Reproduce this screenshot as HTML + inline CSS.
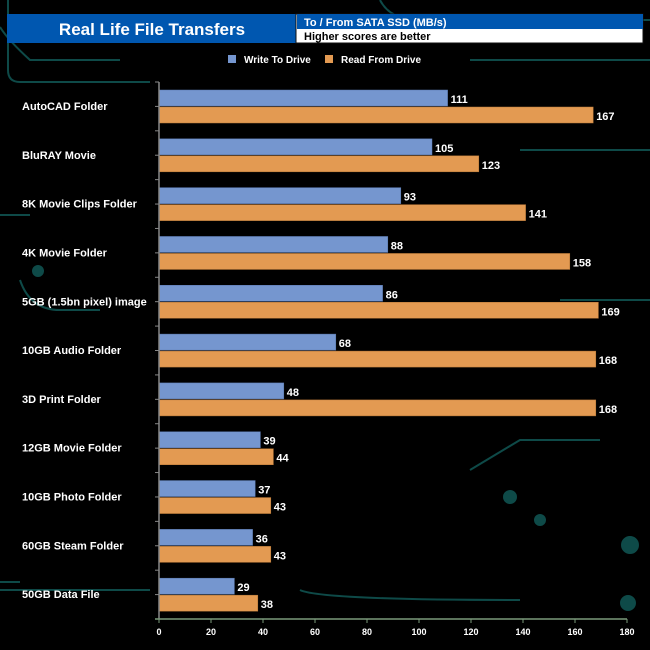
<!DOCTYPE html>
<html><head><meta charset="utf-8"><style>
body{margin:0;background:#000;}
svg{display:block;font-family:"Liberation Sans",Arial,sans-serif;font-weight:bold;}
</style></head><body>
<svg id="c" width="650" height="650" viewBox="0 0 650 650">
<g stroke="#0e4a48" stroke-width="2" fill="none">
<path d="M8 0 V70 Q8 82 20 82 H150"/>
<path d="M380 0 Q390 20 420 20 H650"/>
<path d="M470 60 H650"/>
<path d="M0 27 Q8 40 30 60 H120"/>
<path d="M0 215 H30"/><path d="M0 590 H150"/><path d="M0 582 H20"/>
<path d="M20 280 Q30 310 60 310 H100"/>
<path d="M300 590 Q320 600 520 600"/>
<path d="M470 470 L520 440 H600"/>
<path d="M560 300 H650"/><path d="M520 150 H650"/>
<circle cx="630" cy="545" r="8" fill="#0e4a48"/><circle cx="510" cy="497" r="6" fill="#0e4a48"/>
<circle cx="628" cy="603" r="7" fill="#0e4a48"/><circle cx="540" cy="520" r="5" fill="#0e4a48"/>
<circle cx="38" cy="271" r="5" fill="#0e4a48"/>
</g>
<rect x="7" y="14" width="289" height="29" fill="#0057b0"/>
<text x="152" y="35" text-anchor="middle" fill="#fff" font-size="17">Real Life File Transfers</text>
<rect x="296" y="14" width="347" height="29" fill="#fff" stroke="#111" stroke-width="1"/>
<rect x="297" y="14" width="346" height="15" fill="#0057b0"/>
<text x="304" y="26" fill="#fff" font-size="11">To /  From SATA SSD (MB/s)</text>
<text x="304" y="40" fill="#000" font-size="11">Higher scores are better</text>
<rect x="228" y="55" width="8" height="8" fill="#7596cf"/>
<text x="244" y="63" fill="#fff" font-size="10">Write To  Drive</text>
<rect x="325" y="55" width="8" height="8" fill="#e39a52"/>
<text x="341" y="63" fill="#fff" font-size="10">Read From  Drive</text>
<g id="plot"></g>
</svg>
<script>
const categories=["AutoCAD Folder","BluRAY Movie","8K Movie Clips Folder","4K Movie Folder","5GB (1.5bn pixel) image","10GB Audio Folder","3D Print Folder","12GB Movie Folder","10GB Photo Folder","60GB Steam Folder","50GB Data File"];
const writeVals=[111,105,93,88,86,68,48,39,37,36,29];
const readVals=[167,123,141,158,169,168,168,44,43,43,38];
const xTicks=[0,20,40,60,80,100,120,140,160,180];
const NS="http://www.w3.org/2000/svg";
const g=document.getElementById('plot');
const x0=159,xMax=180,xW=468,yTop=82,yBot=619;
const band=(yBot-yTop)/categories.length;
const X=v=>x0+v/xMax*xW;
const Y=i=>yTop+i*band;
function el(t,a){const e=document.createElementNS(NS,t);for(const k in a)e.setAttribute(k,a[k]);g.appendChild(e);return e;}
categories.forEach((c,i)=>{
 const y=Y(i);
 const t=el('text',{x:22,y:y+28,fill:'#fff','font-size':11});
 t.textContent=c;
 
 
 const w=el('rect',{x:x0,y:y+8,width:X(writeVals[i])-x0,height:16,fill:'#7596cf',stroke:'#5a78b0','stroke-width':0.5});
 
 
 const r=el('rect',{x:x0,y:y+25,width:X(readVals[i])-x0,height:16,fill:'#e39a52',stroke:'#b87838','stroke-width':0.5});
 
 
 const wl=el('text',{x:X(writeVals[i])+3,y:y+21,fill:'#fff','font-size':11});
 wl.textContent=writeVals[i];
 
 
 const rl=el('text',{x:X(readVals[i])+3,y:y+38,fill:'#fff','font-size':11});
 rl.textContent=readVals[i];
 
 
 const tk=el('line',{x1:x0-4,x2:x0,y1:y,y2:y,stroke:'#888'});
 
 
 const tk2=el('line',{x1:x0-4,x2:x0,y1:y+band/2,y2:y+band/2,stroke:'#888'});
 
 
});
const ya=el('line',{x1:x0,x2:x0,y1:yTop,y2:yBot,stroke:'#888','stroke-width':1.5});


const xa=el('line',{x1:x0-4,x2:X(xMax),y1:yBot,y2:yBot,stroke:'#7a9a7a','stroke-width':1.5});


xTicks.forEach(v=>{
 const l=el('line',{x1:X(v),x2:X(v),y1:yBot,y2:yBot+4,stroke:'#7a9a7a'});
 
 
 const t=el('text',{x:X(v),y:635,'text-anchor':'middle',fill:'#fff','font-size':9});
 t.textContent=v;
 
 
});
</script>
</body></html>
